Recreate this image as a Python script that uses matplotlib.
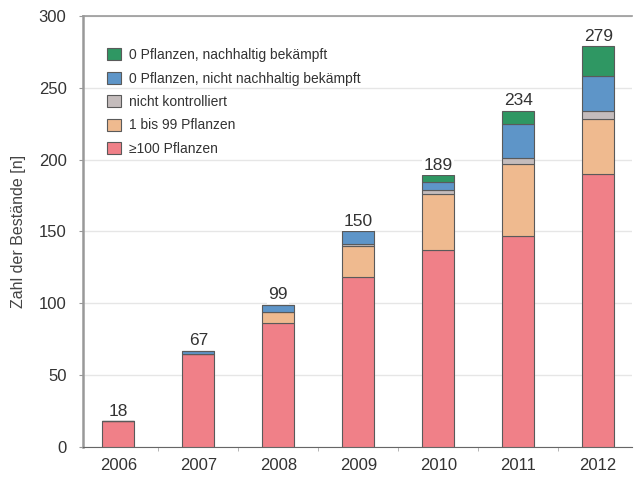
import numpy as np
import matplotlib
matplotlib.use("Agg")
import matplotlib.pyplot as plt

plt.rcParams["font.family"] = ["Liberation Sans", "DejaVu Sans"]

years = ["2006", "2007", "2008", "2009", "2010", "2011", "2012"]
totals = [18, 67, 99, 150, 189, 234, 279]

# segments from bottom to top
ge100 = [18, 65, 86, 118, 137, 147, 190]
bis99 = [0, 0, 8, 22, 39, 50, 38]
nicht_kontr = [0, 0, 0, 1, 3, 4, 6]
nicht_nachh = [0, 2, 5, 9, 5, 24, 24]
nachh = [0, 0, 0, 0, 5, 9, 21]

labels = ["\u2265100 Pflanzen", "1 bis 99 Pflanzen", "nicht kontrolliert",
          "0 Pflanzen, nicht nachhaltig bek\u00e4mpft",
          "0 Pflanzen, nachhaltig bek\u00e4mpft"]
colors = ["#f08088", "#efba8f", "#c4bcbc", "#5e95c8", "#2f9763"]

fig = plt.figure(figsize=(6.35, 4.79), dpi=100)
ax = fig.add_axes([0.131, 0.067, 0.864, 0.900])

x = np.arange(len(years))
bottom = np.zeros(len(years))
handles = []
for vals, lab, col in zip([ge100, bis99, nicht_kontr, nicht_nachh, nachh], labels, colors):
    vals = np.array(vals, dtype=float)
    b = ax.bar(x, vals, 0.4, bottom=bottom, color=col, edgecolor="#5a5a5a",
               linewidth=0.8, label=lab, zorder=3)
    handles.append(b)
    bottom += vals

for xi, t in zip(x, totals):
    ax.text(xi, t + 1.5, str(t), ha="center", va="bottom", fontsize=12.5,
            color="#333333", zorder=4,
            bbox=dict(facecolor="white", edgecolor="none", pad=1))

ax.set_xlim(-0.44, 6.42)
ax.set_ylim(0, 300)
ax.set_yticks(range(0, 301, 50))
ax.set_xticks(x)
ax.set_xticklabels(years)
ax.set_xticks(np.arange(0.5, 6, 1), minor=True)
ax.tick_params(axis="x", which="major", length=0, pad=8, labelsize=12, labelcolor="#333333")
ax.tick_params(axis="x", which="minor", length=3, color="#aaaaaa")
ax.tick_params(axis="y", length=3, color="#999999", labelsize=12, labelcolor="#333333", pad=9)

ax.yaxis.grid(True, color="#e6e6e6", linewidth=1, zorder=0)
ax.set_axisbelow(True)

for side in ["left", "bottom", "top"]:
    ax.spines[side].set_color("#999999")
ax.spines["left"].set_linewidth(1.8)
ax.spines["bottom"].set_color("#666666")
ax.spines["top"].set_linewidth(1.2)
ax.spines["right"].set_visible(False)

ax.set_ylabel("Zahl der Best\u00e4nde [n]", fontsize=11.5, color="#444444")
ax.yaxis.set_label_coords(-0.105, 0.5)

leg = ax.legend(handles[::-1], labels[::-1], loc="upper left",
                bbox_to_anchor=(0.044, 0.925), fontsize=10, frameon=False,
                borderpad=0, borderaxespad=0,
                handlelength=0.95, handleheight=0.95, labelspacing=0.68,
                handletextpad=0.6)
for t in leg.get_texts():
    t.set_color("#333333")

fig.savefig("out.png", dpi=100)
